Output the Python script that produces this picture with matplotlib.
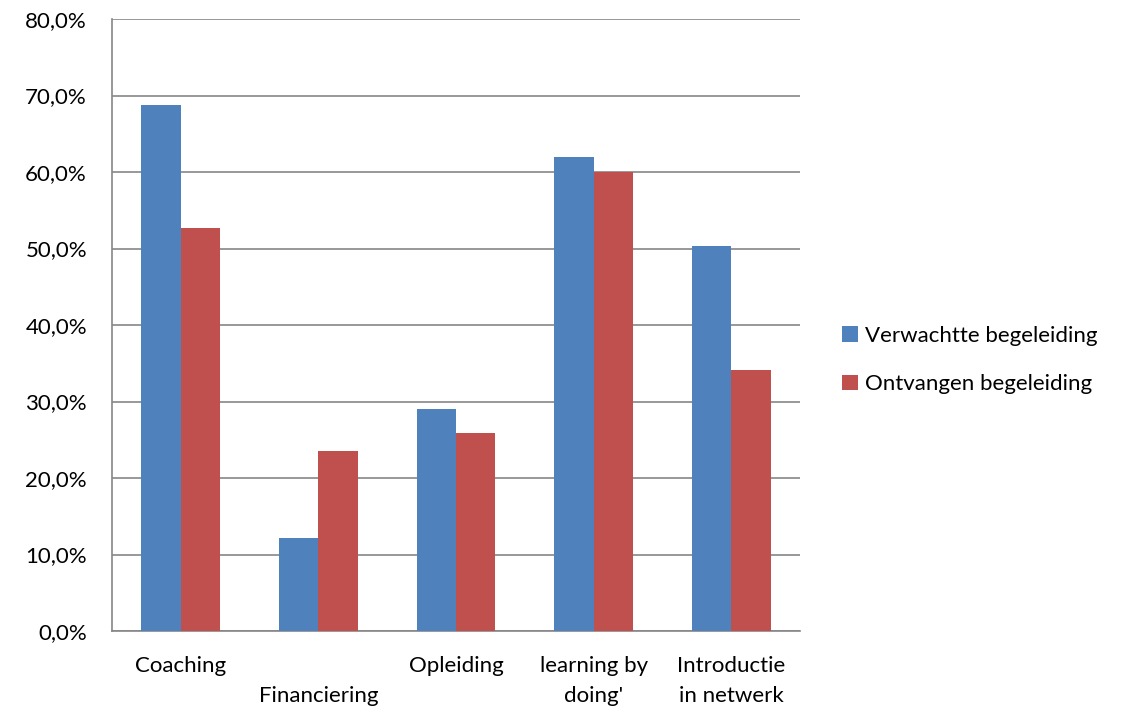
import numpy as np
import matplotlib.pyplot as plt

plt.rcParams['font.family'] = ['Lato', 'DejaVu Sans']

categories = ["Coaching", "\nFinanciering", "Opleiding", "learning by\ndoing'", "Introductie\nin netwerk"]
verwacht = [68.8, 12.2, 29.0, 62.0, 50.3]
ontvangen = [52.7, 23.5, 25.9, 60.0, 34.1]
series_names = ["Verwachtte begeleiding", "Ontvangen begeleiding"]

blue = "#4F81BD"
red = "#C0504D"

fig = plt.figure(figsize=(11.48, 7.10), dpi=100)
ax = fig.add_axes([112 / 1148, 79 / 710, 688 / 1148, 612 / 710])

x = np.arange(len(categories))
w = 1 / 3.5
ax.bar(x - w / 2, verwacht, w, color=blue, label=series_names[0], zorder=3)
ax.bar(x + w / 2, ontvangen, w, color=red, label=series_names[1], zorder=3)

ax.set_xlim(-0.5, len(categories) - 0.5)
ax.set_ylim(0, 80)
ax.set_yticks(np.arange(0, 81, 10))
ax.set_yticklabels([f"{v:.1f}%".replace(".", ",") for v in np.arange(0, 81, 10)], fontsize=16)
ax.set_xticks(x)
ax.set_xticklabels(categories, fontsize=16, linespacing=1.6, va="top")
ax.tick_params(axis="both", length=0, colors="black")
ax.tick_params(axis="x", pad=18)
ax.tick_params(axis="y", pad=18)

ax.grid(axis="y", color="#868686", linewidth=1.2, zorder=0)
for s in ["top", "right"]:
    ax.spines[s].set_visible(False)
for s in ["left", "bottom"]:
    ax.spines[s].set_color("#868686")
    ax.spines[s].set_linewidth(1.2)

fig.legend(loc="center left", bbox_to_anchor=(822 / 1148, 1 - 360 / 710), frameon=False,
           fontsize=16, handlelength=0.7, handleheight=0.7, handletextpad=0.35,
           labelspacing=1.3)

fig.savefig("out.png", dpi=100)
